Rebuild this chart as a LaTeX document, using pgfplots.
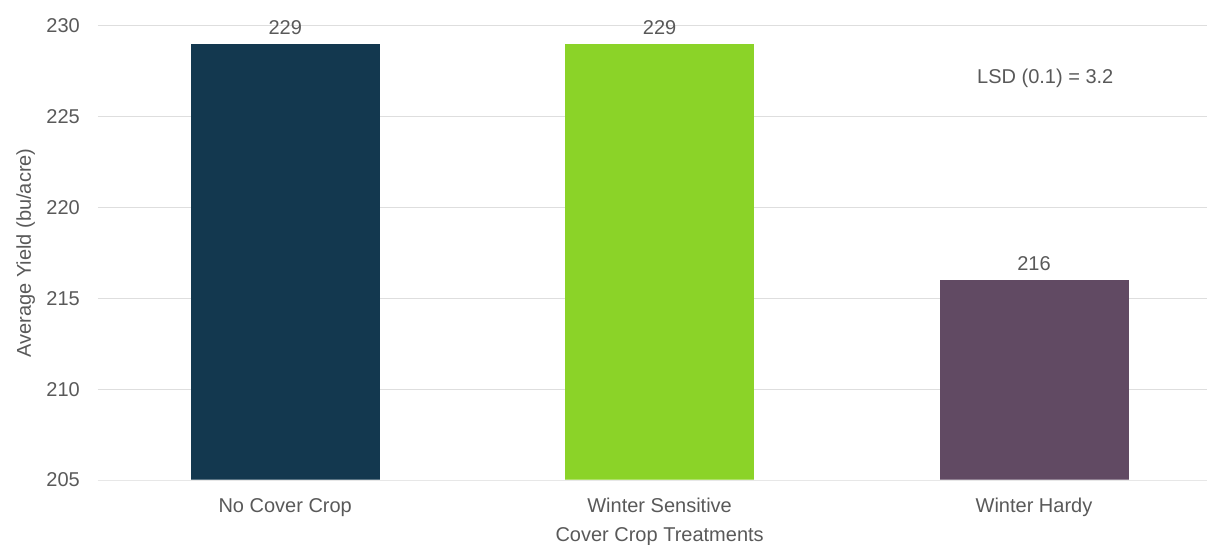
\documentclass[border=0pt]{standalone}
\usepackage{fontspec}
\setmainfont{Liberation Sans}
\usepackage{pgfplots}
\pgfplotsset{compat=1.18}
\definecolor{navy}{HTML}{13384F}
\definecolor{lime}{HTML}{8BD328}
\definecolor{plum}{HTML}{614A63}
\definecolor{txt}{HTML}{595959}
\definecolor{gridc}{HTML}{DEDEDE}
\begin{document}
\begin{tikzpicture}
\begin{axis}[
  at={(0pt,0pt)}, anchor=south west,
  scale only axis, width=1109pt, height=454pt,
  xmin=-0.5, xmax=2.462, ymin=205, ymax=230,
  clip mode=individual,
  ytick={205,210,215,220,225,230},
  xtick={0,1,2},
  xticklabels={No Cover Crop, Winter Sensitive, Winter Hardy},
  axis line style={draw=none},
  major tick length=0pt,
  tick style={draw=none},
  ymajorgrids,
  major grid style={draw=gridc, line width=1pt},
  /pgf/number format/assume math mode=true,
  tick label style={font=\fontsize{20}{24}\selectfont, text=txt, inner sep=0pt},
  yticklabel style={anchor=east, xshift=-18pt},
  xticklabel style={anchor=base, yshift=-32pt},
  ybar, bar width=189pt, bar shift=0pt,
  nodes near coords,
  nodes near coords style={font=\fontsize{20}{24}\selectfont, text=txt, anchor=base, inner sep=0pt, yshift=10pt},
]
\addplot[fill=navy, draw=none] coordinates {(0,229)};
\addplot[fill=lime, draw=none] coordinates {(1,229)};
\addplot[fill=plum, draw=none] coordinates {(2,216)};
\draw[white, opacity=0.3, line width=1.5pt] (axis cs:-0.5,205) -- (axis cs:2.462,205);
\node[font=\fontsize{20}{24}\selectfont, text=txt] at (axis cs:2.03,227.1) {LSD (0.1) = 3.2};
\coordinate (xl) at (axis cs:1,205);
\coordinate (yl) at (rel axis cs:0,0.5);
\end{axis}
\node[font=\fontsize{20}{24}\selectfont, text=txt, anchor=base, inner sep=0pt] at ([yshift=-61pt]xl) {Cover Crop Treatments};
\node[font=\fontsize{20}{24}\selectfont, text=txt, rotate=90, anchor=base, inner sep=0pt] at ([xshift=-67pt]yl) {Average Yield (bu/acre)};
\pgfresetboundingbox
\path[use as bounding box] (-98pt,-64pt) rectangle (1109pt,480pt);
\end{tikzpicture}
\end{document}
